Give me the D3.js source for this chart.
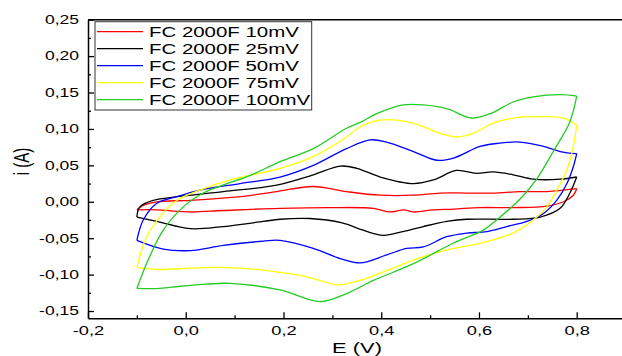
<html>
<head>
<style>
  body { margin: 0; background: #fff; }
  svg { display: block; font-family: "Liberation Sans", Arial, sans-serif; }
  .axis .domain { stroke: #000; stroke-width: 1.5px; }
  .axis .tick line { stroke: #000; stroke-width: 1.3px; }
</style>
</head>
<body>
<div id="chart"></div>
<script src="https://d3js.org/d3.v7.min.js"></script>
<script>

// series names (legend) and their colours
var labels = ["FC 2000F 10mV", "FC 2000F 25mV", "FC 2000F 50mV", "FC 2000F 75mV", "FC 2000F 100mV"];
var colors = ["#ff0000", "#000000", "#0000ff", "#ffff00", "#22cc22"];

// tick values
var xTicks = [-0.2, 0.0, 0.2, 0.4, 0.6, 0.8];
var yTicks = [-0.15, -0.10, -0.05, 0.00, 0.05, 0.10, 0.15, 0.20, 0.25];

// [E (V), i (A)] - forward scan (-0.1 -> 0.8) and reverse scan (0.8 -> -0.1)
var fwd10 = [[-0.100,-0.011],[-0.087,-0.005],[-0.059,0.000],[0.009,0.002],[0.111,0.007],[0.186,0.014],[0.261,0.021],[0.329,0.014],[0.398,0.009],[0.466,0.009],[0.520,0.012],[0.575,0.012],[0.629,0.012],[0.684,0.014],[0.739,0.014],[0.800,0.018]];
var rev10 = [[0.800,0.018],[0.793,0.009],[0.773,0.000],[0.739,-0.006],[0.670,-0.008],[0.602,-0.008],[0.548,-0.010],[0.507,-0.011],[0.466,-0.014],[0.446,-0.011],[0.418,-0.014],[0.384,-0.009],[0.295,-0.008],[0.193,-0.009],[0.077,-0.012],[0.009,-0.014],[-0.059,-0.011],[-0.100,-0.011]];

var fwd25 = [[-0.100,-0.021],[-0.094,-0.007],[-0.066,0.002],[-0.018,0.007],[0.077,0.014],[0.186,0.023],[0.261,0.037],[0.316,0.049],[0.350,0.046],[0.398,0.034],[0.466,0.025],[0.507,0.030],[0.554,0.043],[0.595,0.039],[0.629,0.041],[0.670,0.037],[0.711,0.031],[0.766,0.031],[0.800,0.034]];
var rev25 = [[0.800,0.034],[0.786,0.012],[0.766,-0.009],[0.725,-0.021],[0.670,-0.024],[0.575,-0.024],[0.534,-0.027],[0.486,-0.034],[0.444,-0.041],[0.404,-0.046],[0.363,-0.039],[0.320,-0.029],[0.254,-0.023],[0.193,-0.024],[0.159,-0.027],[0.077,-0.034],[0.009,-0.037],[-0.059,-0.027],[-0.100,-0.021]];

var fwd50 = [[-0.100,-0.053],[-0.087,-0.025],[-0.059,-0.002],[-0.018,0.007],[0.029,0.016],[0.111,0.025],[0.193,0.034],[0.261,0.050],[0.329,0.073],[0.377,0.085],[0.411,0.082],[0.466,0.069],[0.514,0.057],[0.548,0.060],[0.602,0.076],[0.636,0.080],[0.684,0.082],[0.732,0.076],[0.766,0.069],[0.800,0.066]];
var rev50 = [[0.800,0.066],[0.793,0.048],[0.780,0.025],[0.759,0.002],[0.732,-0.016],[0.698,-0.027],[0.657,-0.034],[0.616,-0.041],[0.575,-0.043],[0.534,-0.048],[0.486,-0.062],[0.452,-0.064],[0.411,-0.073],[0.357,-0.084],[0.316,-0.078],[0.261,-0.064],[0.193,-0.053],[0.159,-0.054],[0.077,-0.060],[0.009,-0.067],[-0.046,-0.065],[-0.100,-0.053]];

var fwd75 = [[-0.100,-0.090],[-0.080,-0.048],[-0.053,-0.021],[-0.018,0.002],[0.029,0.016],[0.091,0.030],[0.193,0.046],[0.261,0.062],[0.329,0.089],[0.357,0.103],[0.398,0.112],[0.432,0.112],[0.479,0.105],[0.520,0.094],[0.554,0.089],[0.588,0.094],[0.629,0.108],[0.670,0.115],[0.725,0.117],[0.773,0.115],[0.800,0.105]];
var rev75 = [[0.800,0.105],[0.793,0.076],[0.780,0.044],[0.759,0.016],[0.739,-0.007],[0.711,-0.025],[0.670,-0.043],[0.602,-0.057],[0.534,-0.066],[0.466,-0.080],[0.398,-0.098],[0.357,-0.108],[0.309,-0.114],[0.275,-0.108],[0.234,-0.101],[0.193,-0.097],[0.131,-0.092],[0.070,-0.090],[0.009,-0.091],[-0.053,-0.093],[-0.100,-0.090]];

var fwd100 = [[-0.100,-0.119],[-0.077,-0.080],[-0.046,-0.039],[-0.005,-0.007],[0.036,0.012],[0.076,0.023],[0.131,0.036],[0.193,0.055],[0.261,0.073],[0.329,0.101],[0.357,0.109],[0.391,0.121],[0.445,0.133],[0.486,0.133],[0.534,0.128],[0.585,0.115],[0.623,0.121],[0.670,0.137],[0.711,0.144],[0.766,0.147],[0.800,0.145]];
var rev100 = [[0.800,0.145],[0.786,0.110],[0.752,0.069],[0.718,0.031],[0.690,0.008],[0.664,-0.009],[0.636,-0.025],[0.609,-0.039],[0.547,-0.057],[0.466,-0.085],[0.384,-0.108],[0.329,-0.126],[0.275,-0.137],[0.193,-0.121],[0.091,-0.112],[0.043,-0.113],[-0.012,-0.116],[-0.053,-0.119],[-0.100,-0.119]];

var series = [[fwd10, rev10], [fwd25, rev25], [fwd50, rev50], [fwd75, rev75], [fwd100, rev100]];

// the picture was stretched sideways, so is the text
var sx = 1.46;

var width = 622, height = 356;
var svg = d3.select("#chart").append("svg")
    .attr("width", width)
    .attr("height", height);

var x = d3.scaleLinear().domain([-0.2, 0.9]).range([88, 625.6]);
var y = d3.scaleLinear().domain([-0.16, 0.25]).range([318.3, 19.7]);

var comma = function(f) { return function(d) { return d3.format(f)(d).replace(".", ",").replace("−", "-"); }; };

// top frame line
svg.append("line")
    .attr("x1", x(-0.2)).attr("x2", width)
    .attr("y1", y(0.25)).attr("y2", y(0.25))
    .attr("stroke", "#000").attr("stroke-width", 1.5);

// minor ticks
svg.append("g").attr("class", "axis")
    .attr("transform", "translate(0," + y(-0.16) + ")")
    .call(d3.axisBottom(x).tickValues(d3.range(-0.1, 0.85, 0.2)).tickSize(-3).tickSizeOuter(0).tickFormat(""))
    .select(".domain").remove();
svg.append("g").attr("class", "axis")
    .attr("transform", "translate(" + x(-0.2) + ",0)")
    .call(d3.axisLeft(y).tickValues(d3.range(-0.125, 0.25, 0.05)).tickSize(-3).tickSizeOuter(0).tickFormat(""))
    .select(".domain").remove();

// x axis
var gx = svg.append("g").attr("class", "axis")
    .attr("transform", "translate(0," + y(-0.16) + ")")
    .call(d3.axisBottom(x).tickValues(xTicks).tickSize(-6).tickSizeOuter(0).tickPadding(7.5).tickFormat(comma(".1f")));
gx.selectAll(".tick text")
    .attr("font-size", 12.5).attr("font-family", null).attr("fill", "#000")
    .attr("transform", "scale(" + sx + ",1)");

// y axis
var gy = svg.append("g").attr("class", "axis")
    .attr("transform", "translate(" + x(-0.2) + ",0)")
    .call(d3.axisLeft(y).tickValues(yTicks).tickSize(-6).tickSizeOuter(0).tickPadding(9).tickFormat(comma(".2f")));
gy.selectAll(".tick text")
    .attr("font-size", 12).attr("font-family", null).attr("fill", "#000")
    .attr("x", -9 / sx)
    .attr("transform", "scale(" + sx + ",1)");

// axis titles
svg.append("text")
    .attr("transform", "translate(" + 357 + ",353) scale(" + sx + ",1)")
    .attr("text-anchor", "middle").attr("font-size", 15)
    .text("E (V)");
svg.append("text")
    .attr("transform", "translate(29," + 161.5 + ") scale(" + sx + ",1) rotate(-90)")
    .attr("text-anchor", "middle").attr("font-size", 15)
    .text("i (A)");

// curves
var line = d3.line()
    .x(function(d) { return x(d[0]); })
    .y(function(d) { return y(d[1]); })
    .curve(d3.curveCatmullRom.alpha(0.5));

series.forEach(function(s, k) {
  s.forEach(function(branch) {
    svg.append("path")
        .datum(branch)
        .attr("d", line)
        .attr("fill", "none")
        .attr("stroke", colors[k])
        .attr("stroke-width", 1.3);
  });
});

// legend
var lg = svg.append("g");
lg.append("rect")
    .attr("x", 95).attr("y", 21.7)
    .attr("width", 216.7).attr("height", 88.3)
    .attr("fill", "#fff").attr("stroke", "#333").attr("stroke-width", 1);
labels.forEach(function(t, k) {
  var cy = 31.7 + k * 17;
  lg.append("line")
      .attr("x1", 97).attr("x2", 143)
      .attr("y1", cy).attr("y2", cy)
      .attr("stroke", colors[k]).attr("stroke-width", 1.3);
  lg.append("text")
      .attr("transform", "translate(149," + (cy + 5) + ") scale(" + sx + ",1)")
      .attr("font-size", 14)
      .text(t);
});

</script>
</body>
</html>
